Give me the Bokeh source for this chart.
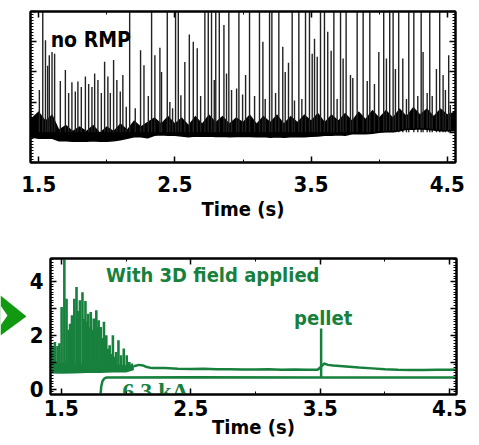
import numpy as np
from bokeh.plotting import figure
from bokeh.layouts import column, row
from bokeh.models import Range1d, LinearAxis, FixedTicker, CustomJSTickFormatter
from bokeh.core.properties import value
from bokeh.embed import file_html
from bokeh.resources import INLINE

FONT = "DejaVu Sans Condensed"
GREEN = "#17803d"

# ---- Upper panel: D-alpha without RMP -------------------------------------
# large ELM spikes (time s, peak value); 5.6 = runs off the top of the frame
TOP_SPIKE_T = [1.505, 1.53, 1.55, 1.566, 1.578, 1.598, 1.617, 1.659, 1.696, 1.72,
               1.744, 1.769, 1.788, 1.813, 1.843, 1.867, 1.891, 1.911, 1.935, 1.96,
               1.984, 2.008, 2.026, 2.05, 2.074, 2.099, 2.118, 2.143, 2.168, 2.209,
               2.248, 2.273, 2.305, 2.329, 2.353, 2.39, 2.402, 2.444, 2.463, 2.483,
               2.505, 2.525, 2.544, 2.573, 2.606, 2.635, 2.664, 2.689, 2.72, 2.745,
               2.769, 2.789, 2.80, 2.826, 2.86, 2.879, 2.896, 2.916, 2.953, 2.97,
               2.997, 3.019, 3.048, 3.085, 3.121, 3.146, 3.163, 3.195, 3.212, 3.239,
               3.263, 3.292, 3.31, 3.334, 3.361, 3.378, 3.41, 3.432, 3.459, 3.488,
               3.508, 3.525, 3.545, 3.569, 3.598, 3.622, 3.647, 3.667, 3.691, 3.716,
               3.735, 3.757, 3.789, 3.806, 3.838, 3.882, 3.912, 3.931, 3.965, 3.997,
               4.033, 4.053, 4.077, 4.102, 4.119, 4.143, 4.173, 4.20, 4.217, 4.254,
               4.283, 4.308, 4.322, 4.352, 4.371, 4.389, 4.42, 4.444, 4.469, 4.486,
               4.51, 4.522]
TOP_SPIKE_V = [2.4, 5.6, 4.05, 3.2, 3.55, 3.66, 3.6, 2.7, 3.06, 2.3,
               2.66, 2.35, 2.68, 2.5, 2.85, 2.6, 2.5, 2.95, 2.73, 2.3,
               3.34, 2.85, 2.3, 3.39, 2.73, 2.35, 2.9, 1.85, 5.6, 1.8,
               3.72, 3.22, 2.2, 5.6, 3.55, 3.8, 3.0, 5.6, 2.0, 1.8,
               5.6, 5.6, 2.23, 3.33, 4.24, 4.0, 3.78, 2.2, 5.6, 5.6,
               5.6, 2.73, 5.6, 5.6, 4.55, 2.95, 5.6, 2.4, 2.45, 5.6,
               2.25, 2.9, 5.6, 2.2, 5.6, 4.0, 2.1, 5.6, 5.6, 2.3,
               5.6, 3.83, 3.0, 3.3, 5.6, 2.05, 5.6, 2.1, 5.6, 5.6,
               3.6, 4.1, 3.5, 5.6, 5.6, 4.33, 3.7, 5.6, 2.1, 5.6,
               3.44, 5.6, 2.9, 2.8, 5.6, 5.6, 2.7, 5.6, 2.6, 3.66,
               5.6, 3.44, 5.6, 5.6, 3.1, 5.6, 3.44, 2.1, 5.6, 5.6,
               2.2, 5.6, 3.66, 2.3, 5.6, 2.2, 3.1, 5.6, 2.9, 2.4,
               3.55, 1.9]

# inter-ELM signal band: lower and upper envelope
BAND_T = [1.44, 1.50, 1.55, 1.60, 1.65, 1.70, 1.75, 1.80, 1.85, 1.90, 1.95, 2.00,
          2.05, 2.10, 2.15, 2.20, 2.25, 2.30, 2.35, 2.40, 2.45, 2.50, 2.55, 2.60,
          2.65, 2.70, 2.75, 2.80, 2.85, 2.90, 2.95, 3.00, 3.05, 3.10, 3.15, 3.20,
          3.25, 3.30, 3.35, 3.40, 3.45, 3.50, 3.55, 3.60, 3.65, 3.70, 3.75, 3.80,
          3.85, 3.90, 3.95, 4.00, 4.05, 4.10, 4.15, 4.20, 4.25, 4.30, 4.35, 4.40,
          4.45, 4.50, 4.56]
BAND_LO = [0.85, 0.80, 0.80, 0.80, 0.72, 0.72, 0.70, 0.70, 0.70, 0.72, 0.70, 0.70,
           0.72, 0.75, 0.80, 0.85, 0.85, 0.82, 0.90, 0.92, 0.90, 0.90, 0.88, 0.85,
           0.88, 0.87, 0.88, 0.86, 0.87, 0.85, 0.86, 0.87, 0.86, 0.85, 0.86, 0.84,
           0.85, 0.84, 0.85, 0.86, 0.85, 0.87, 0.88, 0.90, 0.90, 0.92, 0.90, 0.95,
           0.96, 0.95, 0.97, 1.00, 1.02, 1.02, 1.05, 1.10, 1.10, 1.12, 1.10, 1.08,
           1.05, 1.05, 1.05]
BAND_HI = [1.45, 1.70, 1.40, 1.60, 1.10, 1.25, 1.05, 1.20, 1.05, 1.25, 1.00, 1.20,
           1.05, 1.30, 1.10, 1.40, 1.20, 1.35, 1.50, 1.30, 1.55, 1.30, 1.50, 1.25,
           1.55, 1.30, 1.60, 1.35, 1.55, 1.30, 1.50, 1.35, 1.60, 1.30, 1.55, 1.35,
           1.60, 1.30, 1.55, 1.35, 1.60, 1.40, 1.65, 1.35, 1.60, 1.40, 1.65, 1.40,
           1.70, 1.45, 1.75, 1.50, 1.75, 1.50, 1.80, 1.55, 1.85, 1.60, 1.80, 1.55,
           1.80, 1.60, 1.70]

# ---- Lower panel: with 3D field applied ----------------------------------
GRN_SPIKE_T = [1.42, 1.435, 1.45, 1.47, 1.485, 1.502, 1.523, 1.54, 1.555, 1.567,
               1.582, 1.60, 1.617, 1.63, 1.643, 1.663, 1.675, 1.686, 1.697, 1.707,
               1.717, 1.727, 1.74, 1.75, 1.77, 1.78, 1.788, 1.804, 1.815, 1.829,
               1.847, 1.86, 1.873, 1.885, 1.898, 1.91, 1.923, 1.941, 1.961, 1.982,
               2.005, 2.025, 2.045]
GRN_SPIKE_V = [1.7, 1.6, 1.75, 1.6, 1.7, 3.05, 5.5, 3.36, 2.2, 2.43,
               2.74, 3.36, 3.79, 2.9, 3.3, 3.6, 2.6, 3.27, 2.5, 2.8,
               2.3, 2.86, 2.2, 2.62, 2.93, 2.3, 2.56, 2.31, 1.9, 2.5,
               2.0, 1.5, 1.63, 1.3, 2.0, 1.2, 1.38, 1.81, 1.26, 1.51,
               1.26, 1.01, 0.95]
GRN_BAND_T = [1.416, 1.5, 1.6, 1.7, 1.8, 1.9, 2.0, 2.06]
GRN_BAND_LO = [0.58, 0.57, 0.58, 0.6, 0.6, 0.62, 0.62, 0.7]
GRN_BAND_HI = [1.0, 0.98, 0.95, 0.95, 0.92, 0.92, 0.9, 0.88]

DALPHA_T = [2.06, 2.10, 2.13, 2.16, 2.20, 2.30, 2.40, 2.50, 2.60, 2.70, 2.80, 2.90,
            3.00, 3.10, 3.20, 3.30, 3.40, 3.48, 3.50, 3.53, 3.56, 3.60, 3.70, 3.80,
            3.90, 4.00, 4.10, 4.20, 4.30, 4.40, 4.50, 4.56]
DALPHA_V = [0.85, 0.90, 0.88, 0.82, 0.78, 0.78, 0.76, 0.75, 0.76, 0.74, 0.74, 0.73,
            0.73, 0.74, 0.72, 0.73, 0.72, 0.72, 0.80, 0.95, 0.90, 0.88, 0.84, 0.80,
            0.77, 0.74, 0.72, 0.71, 0.71, 0.72, 0.72, 0.73]
PELLET_T = 3.507
PELLET_PEAK = 2.25

COIL_T = [1.416, 1.800, 1.803, 1.808, 1.818, 1.832, 1.850, 2.50, 3.50, 4.56]
COIL_V = [-0.4, -0.4, -0.2, 0.1, 0.3, 0.4, 0.43, 0.44, 0.43, 0.43]

BLANK = CustomJSTickFormatter(code="return ''")
TICK_FONT_SIZE = "22px"
AXIS_LABEL_SIZE = "20px"


def style_axis(ax, ticks, minor, show=True, overrides=None):
    ax.ticker = FixedTicker(ticks=ticks, minor_ticks=minor)
    ax.axis_line_width = 2
    ax.axis_line_color = "black"
    ax.major_tick_in = 6
    ax.major_tick_out = 0
    ax.minor_tick_in = 3
    ax.minor_tick_out = 0
    ax.major_tick_line_width = 1.5
    ax.minor_tick_line_width = 1
    ax.major_label_text_font = FONT
    ax.major_label_text_font_style = "bold"
    ax.major_label_text_color = "black"
    ax.major_label_text_font_size = TICK_FONT_SIZE
    if not show:
        ax.formatter = BLANK
        ax.major_label_standoff = 0
    if overrides:
        ax.major_label_overrides = overrides


def time_label(ax, standoff, label_standoff):
    ax.axis_label = "Time (s)"
    ax.axis_label_text_font = FONT
    ax.axis_label_text_font_style = "bold"
    ax.axis_label_text_font_size = AXIS_LABEL_SIZE
    ax.axis_label_text_color = "black"
    ax.axis_label_standoff = label_standoff
    ax.major_label_standoff = standoff


def base_fig(width, height, xr, yr, left, right, top, bottom):
    p = figure(width=width, height=height, x_range=Range1d(*xr), y_range=Range1d(*yr),
               output_backend="svg", toolbar_location=None,
               min_border_left=left, min_border_right=right,
               min_border_top=top, min_border_bottom=bottom)
    p.xgrid.visible = False
    p.ygrid.visible = False
    p.outline_line_color = "black"
    p.outline_line_width = 2
    p.background_fill_color = "white"
    p.border_fill_color = "white"
    return p


X_MAJOR = [1.5, 2.5, 3.5, 4.5]
X_MINOR = [2.0, 3.0, 4.0]
Y1_MINOR = [round(v, 1) for v in np.arange(0, 5.01, 0.1)]
Y2_MINOR = [round(v, 1) for v in np.arange(-0.2, 4.85, 0.1)]

# upper figure
p1 = base_fig(479, 230, (1.44, 4.56), (0, 5), 30, 24, 11, 68)
p1.varea(x=BAND_T, y1=BAND_LO, y2=BAND_HI, fill_color="black")
p1.segment(x0=TOP_SPIKE_T, y0=[1.0] * len(TOP_SPIKE_T), x1=TOP_SPIKE_T, y1=TOP_SPIKE_V,
           line_color="#222222", line_width=1.4)
p1.line(BAND_T, BAND_LO, line_color="black", line_width=1.5)
p1.text(x=[1.588], y=[4.07], text=["no RMP"], text_font=value(FONT),
        text_font_style="bold", text_font_size="21px", text_color="black",
        text_baseline="middle", text_align="left")

style_axis(p1.xaxis[0], X_MAJOR, X_MINOR)
time_label(p1.xaxis[0], 13, 2)
style_axis(p1.yaxis[0], [0, 1, 2, 3, 4, 5], Y1_MINOR, show=False)
p1.add_layout(LinearAxis(), "right")
style_axis(p1.right[0], [0, 1, 2, 3, 4, 5], Y1_MINOR, show=False)
p1.add_layout(LinearAxis(), "above")
style_axis(p1.above[0], X_MAJOR, X_MINOR, show=False)

# lower figure (its frame starts 46 px from the page's left edge)
p2 = base_fig(453, 215, (1.416, 4.553), (-0.2, 4.85), 20, 23, 28, 51)
p2.varea(x=GRN_BAND_T, y1=GRN_BAND_LO, y2=GRN_BAND_HI, fill_color=GREEN)
p2.segment(x0=GRN_SPIKE_T, y0=[0.8] * len(GRN_SPIKE_T), x1=GRN_SPIKE_T, y1=GRN_SPIKE_V,
           line_color=GREEN, line_width=2.6)
p2.line(DALPHA_T, DALPHA_V, line_color=GREEN, line_width=2.5)
p2.segment(x0=[PELLET_T], y0=[0.45], x1=[PELLET_T], y1=[PELLET_PEAK],
           line_color=GREEN, line_width=2.5)
p2.line(COIL_T, COIL_V, line_color=GREEN, line_width=2.5)
p2.text(x=[1.97], y=[-0.07], text=["6.3 kA"], text_font=value("Liberation Serif"),
        text_font_style="bold", text_font_size="24px", text_color=GREEN,
        text_baseline="alphabetic", text_align="left")
p2.text(x=[1.844], y=[4.22], text=["With 3D field applied"], text_font=value(FONT),
        text_font_style="bold", text_font_size="20px", text_color=GREEN,
        text_baseline="middle", text_align="left")
p2.text(x=[3.298], y=[2.63], text=["pellet"], text_font=value(FONT),
        text_font_style="bold", text_font_size="20px", text_color=GREEN,
        text_baseline="middle", text_align="left")

style_axis(p2.xaxis[0], X_MAJOR, X_MINOR)
time_label(p2.xaxis[0], 5, -4)
style_axis(p2.yaxis[0], [0, 1, 2, 3, 4], Y2_MINOR, overrides={1: "", 3: ""})
p2.yaxis[0].major_label_standoff = 7
p2.add_layout(LinearAxis(), "right")
style_axis(p2.right[0], [0, 1, 2, 3, 4], Y2_MINOR, show=False)
p2.add_layout(LinearAxis(), "above")
style_axis(p2.above[0], X_MAJOR, X_MINOR, show=False)

# green pointer in the left margin, drawn in the pixel space of its own strip
pa = figure(width=26, height=215, x_range=Range1d(0, 26), y_range=Range1d(0, 215),
            x_axis_location=None, y_axis_location=None,
            output_backend="svg", toolbar_location=None,
            min_border_left=0, min_border_right=0, min_border_top=0, min_border_bottom=0)
pa.xgrid.visible = False
pa.ygrid.visible = False
pa.outline_line_color = None
pa.patch([0, 26, 0], [150, 129, 110], fill_color="#119a11", line_color=None)
pa.patch([0, 7, 0], [140, 130, 120], fill_color="white", line_color=None)

# each plot sits in its own box so that frames are not aligned across plots
layout = column(column(p1), row(column(pa), column(p2), spacing=0), spacing=0)
open("out.html", "w").write(file_html(layout, INLINE))
